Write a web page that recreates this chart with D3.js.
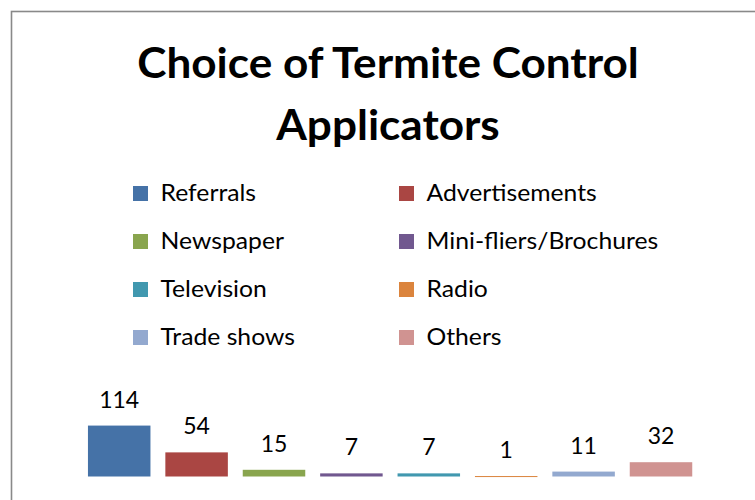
<!DOCTYPE html>
<html>
<head>
<meta charset="utf-8">
<script src="https://cdn.jsdelivr.net/npm/d3@7"></script>
<style>
    body { margin: 0; background: #fff; }
    text { font-family: Lato, "Open Sans", sans-serif; fill: #000; }
</style>
</head>
<body>
<div id="chart"></div>
<script>
// data
var categories = ["Referrals", "Advertisements", "Newspaper", "Mini-fliers/Brochures",
                  "Television", "Radio", "Trade shows", "Others"];
var counts = [114, 54, 15, 7, 7, 1, 11, 32];
var colors = ["#4572A7", "#AA4643", "#89A54E", "#71588F",
              "#4198AF", "#DB843D", "#93A9CF", "#D09391"];
var titleLines = ["Choice of Termite Control", "Applicators"];

var w = 755;
var h = 500;
var data = categories.map(function(c, i){
    return {name: c, value: counts[i], color: colors[i]};
});

var svg = d3.select("#chart").append("svg")
    .attr("width", w)
    .attr("height", h);

// chart frame (runs past the right and bottom edge)
svg.append("rect")
    .attr("x", 11.5)
    .attr("y", 11.5)
    .attr("width", 753)
    .attr("height", 520)
    .attr("fill", "#fff")
    .attr("stroke", "#898989")
    .attr("stroke-width", 1.6);

// title (Lato is a bit narrower than the original font, so stretch it a little)
svg.selectAll(".title")
    .data(titleLines)
    .enter()
    .append("text")
    .classed("title", true)
    .attr("transform", function(d, i){
        return "translate(388," + (78 + i * 62) + ") scale(1.05,1)";
    })
    .style("text-anchor", "middle")
    .style("font-weight", "bold")
    .style("font-size", "42px")
    .text(function(d){ return d; });

// legend, two columns
var legend = svg.selectAll(".legend")
    .data(data)
    .enter()
    .append("g")
    .classed("legend", true)
    .attr("transform", function(d, i){
        var col = i % 2, row = Math.floor(i / 2);
        return "translate(" + (133 + col * 266) + "," + (186 + row * 48) + ")";
    });
legend.append("rect")
    .attr("width", 15)
    .attr("height", 15)
    .attr("fill", function(d){ return d.color; });
legend.append("text")
    .attr("transform", "translate(27.5,15) scale(1.075,1)")
    .style("font-size", "23px")
    .text(function(d){ return d.name; });

// bars
var x = d3.scaleBand()
    .domain(categories)
    .range([80.5, 699.7])
    .paddingInner(0.1925)
    .paddingOuter(0.0963);
var y = d3.scaleLinear()
    .domain([0, 120])
    .range([476.5, 422.9]);

var plot = svg.append("g").classed("plot", true);
plot.selectAll(".bar")
    .data(data)
    .enter()
    .append("rect")
    .classed("bar", true)
    .attr("x", function(d){ return x(d.name); })
    .attr("width", x.bandwidth())
    .attr("y", function(d){ return y(d.value); })
    .attr("height", function(d){ return Math.max(1, y(0) - y(d.value)); })
    .attr("fill", function(d){ return d.color; });

plot.selectAll(".label")
    .data(data)
    .enter()
    .append("text")
    .classed("label", true)
    .attr("x", function(d){ return x(d.name) + x.bandwidth() / 2; })
    .attr("y", function(d){ return Math.min(y(d.value), y(0) - 1) - 18; })
    .style("text-anchor", "middle")
    .style("font-size", "23px")
    .text(function(d){ return d.value; });
</script>
</body>
</html>
